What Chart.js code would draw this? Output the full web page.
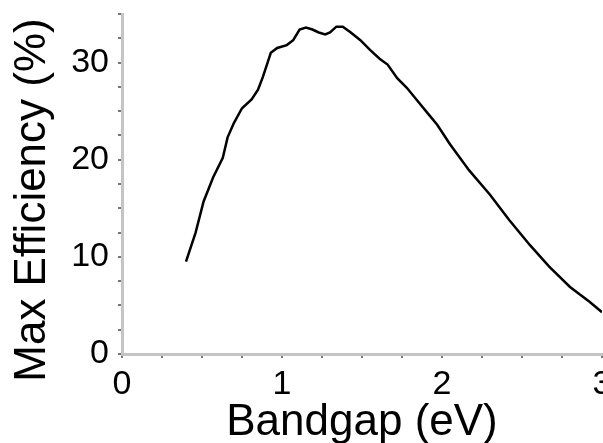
<!DOCTYPE html>
<html>
<head>
<meta charset="utf-8">
<script src="https://cdn.jsdelivr.net/npm/chart.js@4"></script>
<style>
  html, body { margin: 0; padding: 0; background: #fff; }
  #wrap { width: 603px; height: 443px; }
</style>
</head>
<body>
<div id="wrap"><canvas id="myChart"></canvas></div>
<script>
// values
const bandgap = [0.40, 0.46, 0.51, 0.57, 0.63, 0.66, 0.70, 0.75, 0.81, 0.85, 0.88, 0.91, 0.93, 0.97,
  1.03, 1.07, 1.11, 1.15, 1.19, 1.23, 1.27, 1.30, 1.34, 1.38, 1.43, 1.49, 1.55, 1.61, 1.66, 1.72,
  1.78, 1.84, 1.91, 1.97, 2.05, 2.17, 2.30, 2.42, 2.55, 2.67, 2.80, 2.92, 3.00];
const efficiency = [9.5, 12.5, 15.7, 18.2, 20.2, 22.3, 23.8, 25.3, 26.2, 27.2, 28.5, 30.0, 31.0, 31.5,
  31.8, 32.3, 33.4, 33.6, 33.4, 33.1, 32.9, 33.1, 33.7, 33.7, 33.1, 32.3, 31.3, 30.4, 29.8, 28.4,
  27.4, 26.2, 24.8, 23.6, 21.6, 18.9, 16.4, 13.8, 11.2, 9.0, 6.9, 5.4, 4.3];
const xLabels = [0, 1, 2, 3];
const yLabels = [0, 10, 20, 30];
const yTitle = 'Max Efficiency (%)';

const points = bandgap.map((b, i) => ({ x: b, y: efficiency[i] }));
const font = 'Liberation Sans, Arial, sans-serif';

// y title sits a bit lower than the axis centre in the original
const yTitlePlugin = {
  id: 'yTitle',
  afterDraw(chart) {
    const ctx = chart.ctx;
    ctx.save();
    ctx.translate(33, 200);
    ctx.rotate(-Math.PI / 2);
    ctx.font = '44px ' + font;
    ctx.fillStyle = '#000';
    ctx.textAlign = 'center';
    ctx.textBaseline = 'middle';
    ctx.fillText(yTitle, 0, 0);
    ctx.restore();
  }
};

new Chart(document.getElementById('myChart').getContext('2d'), {
  type: 'line',
  data: {
    datasets: [{
      data: points,
      borderColor: '#000',
      borderWidth: 2.5,
      pointRadius: 0,
      tension: 0,
      fill: false
    }]
  },
  options: {
    responsive: true,
    maintainAspectRatio: false,
    animation: false,
    layout: { padding: { top: 14, right: 1, left: 0, bottom: 0 } },
    plugins: { legend: { display: false }, tooltip: { enabled: false } },
    scales: {
      x: {
        type: 'linear',
        min: 0,
        max: 3,
        border: { color: '#c4c4c4', width: 3 },
        grid: { drawOnChartArea: false, drawTicks: true, tickLength: 4, color: '#777', lineWidth: 2 },
        ticks: {
          stepSize: 0.25,
          autoSkip: false,
          maxRotation: 0,
          padding: 6,
          color: '#000',
          font: { family: font, size: 34 },
          callback: v => xLabels.includes(v) ? String(v) : ''
        },
        title: {
          display: true,
          text: 'Bandgap (eV)',
          color: '#000',
          font: { family: font, size: 44, lineHeight: 0.92 },
          padding: { top: 0, bottom: 0 }
        },
        afterFit: s => { s.height = 89; s.paddingLeft = 0; s.paddingRight = 0; }
      },
      y: {
        min: 0,
        max: 35,
        border: { color: '#c4c4c4', width: 3 },
        grid: { drawOnChartArea: false, drawTicks: true, tickLength: 4, color: '#777', lineWidth: 2 },
        ticks: {
          stepSize: 2.5,
          autoSkip: false,
          padding: 9,
          color: '#000',
          font: { family: font, size: 34 },
          callback: v => yLabels.includes(v) ? String(v) : ''
        },
        title: { display: false },
        afterFit: s => { s.width = 122; s.paddingTop = 0; s.paddingBottom = 0; }
      }
    }
  },
  plugins: [yTitlePlugin]
});
</script>
</body>
</html>
